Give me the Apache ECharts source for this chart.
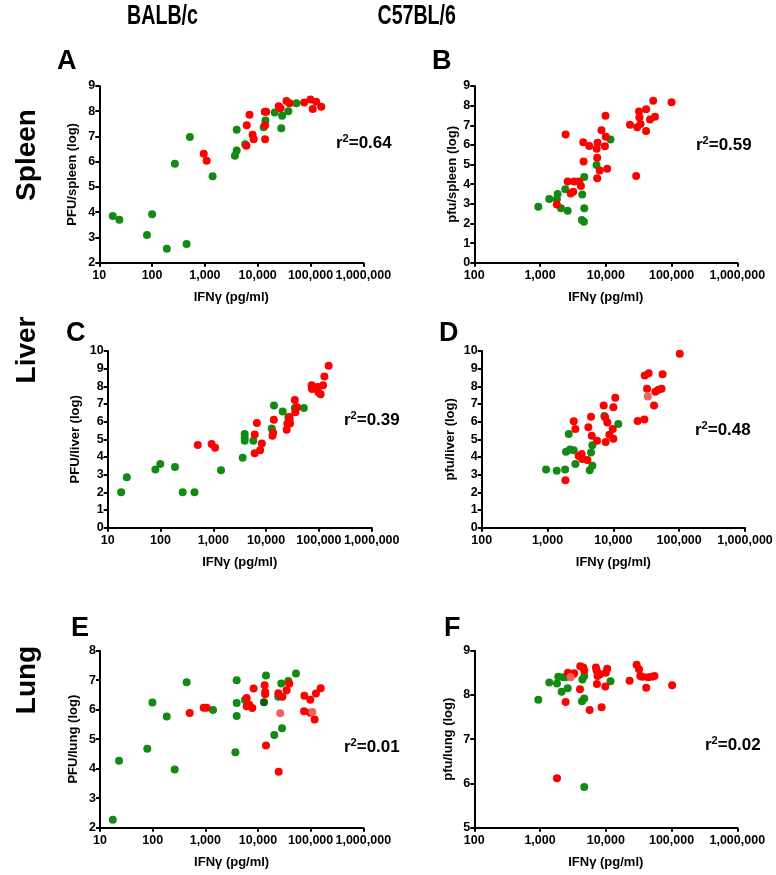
<!DOCTYPE html>
<html><head><meta charset="utf-8">
<script src="https://cdn.jsdelivr.net/npm/echarts/dist/echarts.min.js"></script>
<style>html,body{margin:0;padding:0;background:#fff}#c{width:776px;height:875px}</style>
</head><body><div id="c"></div>
<script>
// ---- data: [IFNγ pg/ml, log PFU] ----
const aGreen = [[18,3.85],[24,3.7],[80,3.1],[100,3.92],[190,2.55],[450,2.74],[270,5.92],[520,6.98],[1400,5.42],[3700,6.24],[4000,6.44],[4000,7.27],[5800,6.69],[13000,7.37],[14000,7.63],[21000,7.95],[28000,7.33],[29000,7.82],[38000,8.0],[54000,8.32]];
const aRed = [[950,6.32],[1080,6.04],[6200,7.45],[7000,7.86],[6100,6.63],[8000,7.07],[8400,6.89],[13600,7.98],[14500,7.98],[13800,6.89],[13800,7.45],[25000,8.2],[27000,8.12],[35000,8.41],[40000,8.32],[76000,8.35],[100000,8.47],[128000,8.38],[110000,8.09],[160000,8.18]];
const bGreen = [[940,2.85],[1380,3.24],[1850,3.5],[1800,3.23],[2080,2.77],[2420,3.74],[2630,2.65],[4380,3.48],[4330,2.17],[4650,2.09],[4700,2.77],[4700,4.37],[7240,4.98],[11800,6.27]];
const bRed = [[1800,2.97],[2450,6.53],[2630,4.13],[2920,3.53],[3200,3.62],[3300,4.13],[3950,4.13],[4190,3.91],[4540,6.13],[4600,5.15],[5600,5.95],[7250,5.81],[7500,6.11],[7400,5.35],[7400,4.3],[8100,4.7],[8600,6.74],[9900,7.49],[9700,5.93],[10000,6.42],[10500,4.79],[23300,7.03],[29000,4.42],[30000,6.9],[32000,7.7],[32500,7.4],[33800,7.06],[41000,7.81],[41000,6.71],[47000,7.3],[52700,8.25],[56000,7.44],[100000,8.17]];
const cGreen = [[18,2.0],[23,2.85],[80,3.3],[99,3.6],[188,3.43],[263,2.0],[440,2.0],[1400,3.25],[3600,3.96],[3930,5.3],[3930,5.09],[3930,4.92],[5740,4.92],[12800,5.62],[14100,6.91],[20600,6.58],[26400,6.25],[28000,6.13],[35000,6.77],[52000,6.77]];
const cRed = [[507,4.68],[930,4.73],[1080,4.53],[6100,5.28],[6700,5.92],[6080,4.21],[7700,4.38],[8300,4.77],[13200,5.21],[13600,5.38],[14000,6.11],[24500,5.55],[25300,5.9],[27600,6.27],[28400,5.9],[35000,7.23],[35800,6.53],[38600,6.81],[73000,8.06],[74000,7.85],[95000,7.96],[98000,7.66],[108000,7.55],[120000,8.06],[127000,8.55],[153000,9.17]];
const dGreen = [[950,3.3],[1380,3.23],[1850,3.3],[1910,4.3],[2100,5.3],[2200,4.43],[2500,4.38],[2650,3.6],[4370,3.25],[4580,4.25],[4800,4.66],[4800,3.51],[7300,6.32],[11900,5.87]];
const dRed = [[1870,2.68],[2500,6.02],[2650,5.58],[2970,4.06],[3300,4.17],[3370,3.89],[4030,3.83],[4170,5.68],[4580,6.28],[4700,5.21],[5650,4.92],[7130,6.92],[7500,6.25],[7650,4.85],[8100,5.96],[8700,5.26],[9800,5.58],[10000,6.81],[10000,5.04],[10700,7.36],[23400,6.04],[29600,6.13],[30000,8.62],[34400,8.74],[32500,7.87],[41500,6.91],[43500,7.7],[48300,7.81],[54000,7.87],[56000,8.68],[102000,9.85]];
const dLight = [[33300,7.43]];
const eGreen = [[17.5,2.27],[23,4.27],[79,4.68],[99,6.24],[185,5.77],[262,3.97],[442,6.93],[1400,5.99],[3720,4.56],[3940,7.0],[3940,6.23],[3940,5.79],[5660,6.33],[14200,7.16],[20400,5.14],[24300,6.44],[27700,6.89],[28600,5.37],[37700,6.97],[52700,7.23]];
const eDark = [[13000,6.25]];
const eRed = [[505,5.89],[930,6.07],[1060,6.07],[6100,6.4],[6100,6.12],[6840,6.17],[7800,6.06],[8270,6.72],[13400,6.83],[13700,6.6],[13700,6.52],[14200,4.79],[24300,6.56],[24700,3.9],[29000,6.44],[35000,6.66],[39300,6.88],[76000,6.47],[75000,5.95],[98600,6.34],[98600,5.9],[119000,5.67],[126000,6.55],[155000,6.73]];
const eLight = [[26500,5.88],[108000,5.92]];
const fGreen = [[940,7.89],[1380,8.28],[1810,8.26],[1890,8.41],[2130,8.07],[2250,8.4],[2450,8.4],[2630,8.15],[4340,7.86],[4700,7.92],[4400,8.35],[4700,8.43],[11800,8.31],[4700,5.92]];
const fRed = [[1810,6.12],[2450,7.84],[2650,8.5],[3200,8.47],[3300,8.49],[4050,8.13],[4090,8.65],[4540,8.62],[4700,8.55],[5680,7.66],[7080,8.62],[7250,8.55],[7330,8.25],[7500,8.43],[8200,8.47],[8630,7.72],[9820,8.19],[10000,8.5],[10500,8.59],[23000,8.32],[29400,8.68],[32000,8.58],[33400,8.43],[36000,8.41],[41200,8.16],[44000,8.4],[50000,8.41],[55000,8.43],[102000,8.22]];
const fLight = [[2920,8.4]];

const strains = ['BALB/c', 'C57BL/6'];
const organs = ['Spleen', 'Liver', 'Lung'];
const letters = ['A','B','C','D','E','F'];
const r2Values = ['0.64','0.59','0.39','0.48','0.01','0.02'];
const yNames = ['PFU/spleen (log)','pfu/spleen (log)','PFU/liver (log)','pfu/liver (log)','PFU/lung (log)','pfu/lung (log)'];
const xName = 'IFNγ (pg/ml)';
const xRanges = [[10,1e6],[100,1e6],[10,1e6],[100,1e6],[10,1e6],[100,1e6]];
const yRanges = [[2,9],[0,9],[0,10],[0,10],[2,8],[5,9]];

const GREEN = '#138a13', RED = '#ff0000', LIGHT = '#f06262', DARK = '#0e5c0e';
const FONT = '"Liberation Sans", Arial, Helvetica, sans-serif';

const layout = [
  {grid:{left:99.3, top:86, width:264, height:176.7}, yGap:20, letter:[57,48], r2:[336,143]},
  {grid:{left:474.3, top:86, width:263, height:176.7}, yGap:15, letter:[432,48], r2:[696,145]},
  {grid:{left:107.7, top:351, width:264, height:176.7}, yGap:26, letter:[66,320], r2:[344,420]},
  {grid:{left:481.7, top:351, width:263.3, height:176.7}, yGap:25, letter:[439,320], r2:[695,430]},
  {grid:{left:100, top:650.7, width:263.3, height:177}, yGap:20, letter:[71,615], r2:[344,747]},
  {grid:{left:474.3, top:650.7, width:263, height:177}, yGap:19.5, letter:[444,615], r2:[705,745]}
];
const groups = [
  [[aGreen,GREEN],[aRed,RED]],
  [[bGreen,GREEN],[bRed,RED]],
  [[cGreen,GREEN],[cRed,RED]],
  [[dGreen,GREEN],[dRed,RED],[dLight,LIGHT]],
  [[eGreen,GREEN],[eDark,DARK],[eRed,RED],[eLight,LIGHT]],
  [[fGreen,GREEN],[fRed,RED],[fLight,LIGHT]]
];

const axisLine = {show:true, lineStyle:{color:'#000', width:2}};
const axisTick = {show:true, inside:false, length:4, lineStyle:{color:'#000', width:2}};
const labelStyle = {color:'#000', fontWeight:'bold', fontSize:12.5, fontFamily:FONT};
const nameStyle = {color:'#000', fontWeight:'bold', fontSize:13, fontFamily:FONT};

const grids = [], xAxes = [], yAxes = [], series = [], graphics = [];
layout.forEach((L, i) => {
  grids.push(Object.assign({outerBoundsMode:'none', containLabel:false}, L.grid));
  xAxes.push({type:'log', logBase:10, gridIndex:i, min:xRanges[i][0], max:xRanges[i][1],
    axisLine, axisTick, minorTick:{show:false}, splitLine:{show:false},
    axisLabel:Object.assign({margin:6, showMinLabel:true, showMaxLabel:true,
      formatter:v => Math.round(v).toLocaleString('en-US')}, labelStyle),
    name:xName, nameLocation:'middle', nameGap:28, nameTextStyle:nameStyle});
  yAxes.push({type:'value', gridIndex:i, min:yRanges[i][0], max:yRanges[i][1], interval:1,
    axisLine, axisTick, splitLine:{show:false},
    axisLabel:Object.assign({margin:4}, labelStyle),
    name:yNames[i], nameLocation:'middle', nameRotate:90, nameGap:L.yGap, nameTextStyle:nameStyle});
  groups[i].forEach(([data, color]) => {
    series.push({type:'scatter', xAxisIndex:i, yAxisIndex:i, data, symbol:'circle', symbolSize:8,
      itemStyle:{color, opacity:1}, emphasis:{disabled:true}, silent:true});
  });
  graphics.push({type:'text', x:L.letter[0], y:L.letter[1],
    style:{text:letters[i], fill:'#000', font:'bold 27px '+FONT, textVerticalAlign:'top'}});
  graphics.push({type:'text', x:L.r2[0], y:L.r2[1],
    style:{text:'{a|r}{s|2}{a|=' + r2Values[i] + '}', textVerticalAlign:'middle',
      rich:{a:{fill:'#000', fontWeight:'bold', fontSize:17, fontFamily:FONT},
            s:{fill:'#000', fontWeight:'bold', fontSize:11, fontFamily:FONT, verticalAlign:'top', padding:[0,0,9,0]}}}});
});
strains.forEach((s, j) => {
  graphics.push({type:'text', x:[162.5,416.7][j], y:16, scaleX:0.7,
    style:{text:s, fill:'#000', font:'bold 28px '+FONT, textAlign:'center', textVerticalAlign:'middle'}});
});
organs.forEach((o, k) => {
  graphics.push({type:'text', x:27, y:[155,350,680][k], rotation:Math.PI/2,
    style:{text:o, fill:'#000', font:'bold 28px '+FONT, textAlign:'center', textVerticalAlign:'middle'}});
});

const chart = echarts.init(document.getElementById('c'), null, {renderer:'canvas'});
chart.setOption({animation:false, backgroundColor:'#fff', grid:grids, xAxis:xAxes, yAxis:yAxes, series, graphic:graphics});
</script></body></html>
